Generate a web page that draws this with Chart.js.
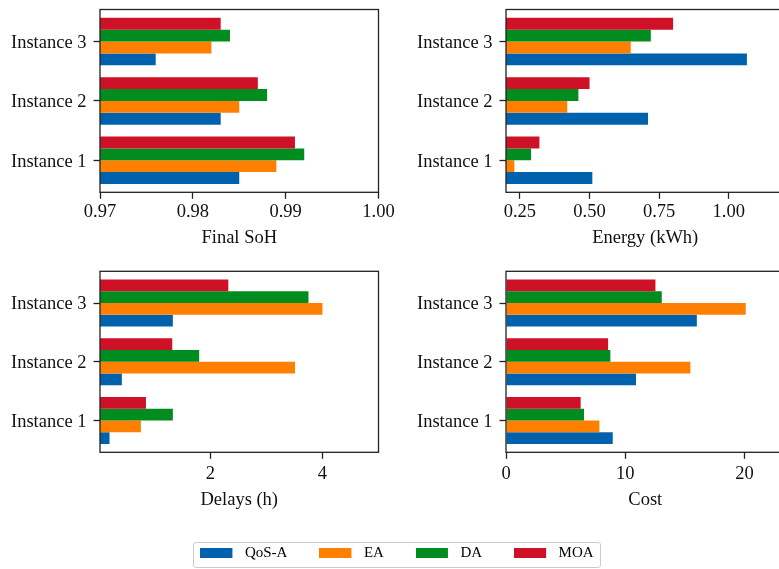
<!DOCTYPE html>
<html>
<head>
<meta charset="utf-8">
<title>Instance comparison: SoH, energy, delays and cost</title>
<script src="https://cdn.jsdelivr.net/npm/chart.js@4.4.1/dist/chart.umd.min.js"></script>
<style>
  html, body { margin: 0; padding: 0; background: #ffffff; width: 779px; height: 569px; overflow: hidden; }
  .panel { position: absolute; left: 0; top: 0; }
  #legendCanvas { position: absolute; left: 147px; top: 490px; }
  #legendFrame {
    position: absolute; left: 192.5px; top: 541.5px; width: 408.5px; height: 26.5px;
    box-sizing: border-box; border: 1.2px solid #cccccc; border-radius: 3px;
  }
</style>
</head>
<body>
<canvas id="sohCanvas" class="panel" width="800" height="569"></canvas>
<canvas id="energyCanvas" class="panel" width="800" height="569"></canvas>
<canvas id="delayCanvas" class="panel" width="800" height="569"></canvas>
<canvas id="costCanvas" class="panel" width="800" height="569"></canvas>
<div id="legendFrame"></div>
<canvas id="legendCanvas" width="500" height="220"></canvas>
<script>
// ---- data ---------------------------------------------------------------
const CATEGORIES = ['Instance 1', 'Instance 2', 'Instance 3'];
const CATEGORY_POS = [0, 1, 2];
const SERIES = ['QoS-A', 'EA', 'DA', 'MOA'];

// Final state of health
const SOH_QOSA = [0.985, 0.983, 0.976];
const SOH_EA   = [0.989, 0.985, 0.982];
const SOH_DA   = [0.992, 0.988, 0.984];
const SOH_MOA  = [0.991, 0.987, 0.983];
const SOH_TICKS = [0.97, 0.98, 0.99, 1.00];
const SOH_TICK_LABELS = ['0.97', '0.98', '0.99', '1.00'];

// Energy (kWh)
const ENERGY_QOSA = [0.51, 0.71, 1.065];
const ENERGY_EA   = [0.23, 0.42, 0.648];
const ENERGY_DA   = [0.29, 0.46, 0.72];
const ENERGY_MOA  = [0.32, 0.50, 0.80];
const ENERGY_TICKS = [0.25, 0.50, 0.75, 1.00];
const ENERGY_TICK_LABELS = ['0.25', '0.50', '0.75', '1.00'];

// Delays (h)
const DELAY_QOSA = [0.20, 0.42, 1.33];
const DELAY_EA   = [0.76, 3.51, 4.00];
const DELAY_DA   = [1.33, 1.80, 3.75];
const DELAY_MOA  = [0.85, 1.32, 2.32];
const DELAY_TICKS = [2, 4];
const DELAY_TICK_LABELS = ['2', '4'];

// Cost
const COST_QOSA = [8.95, 10.9, 16.0];
const COST_EA   = [7.83, 15.46, 20.1];
const COST_DA   = [6.54, 8.75, 13.06];
const COST_MOA  = [6.26, 8.56, 12.53];
const COST_TICKS = [0, 10, 20];
const COST_TICK_LABELS = ['0', '10', '20'];

// ---- styling ------------------------------------------------------------
const SERIES_COLORS = ['#0062ac', '#ff8000', '#008c1e', '#ce1126'];
const INK = '#111111';
const SPINE = '#222222';
const FONT_SIZE = 18.5;
const CANVAS_W = 800, CANVAS_H = 569;
const Y_AXIS_W = 100;

Chart.defaults.font.family = "'Liberation Serif', 'Times New Roman', serif";
Chart.defaults.color = INK;

// closed box around each plotting area
const framePlugin = {
  id: 'frame',
  afterDatasetsDraw(chart) {
    const { ctx, chartArea: a } = chart;
    ctx.save();
    ctx.strokeStyle = SPINE;
    ctx.lineWidth = 1.3;
    ctx.strokeRect(a.left, a.top, a.right - a.left, a.bottom - a.top);
    ctx.restore();
  }
};

function buildDatasets(seriesValues) {
  return SERIES.map((name, s) => ({
    label: name,
    data: seriesValues[s].map((v, i) => ({ x: v, y: CATEGORY_POS[i] })),
    backgroundColor: SERIES_COLORS[s],
    borderWidth: 0,
    // later series are stacked above earlier ones inside each group
    order: SERIES.length - 1 - s,
    categoryPercentage: 0.8,
    barPercentage: 1.0
  }));
}

function makePanel(canvasId, seriesValues, xAxis, area) {
  return new Chart(document.getElementById(canvasId), {
    type: 'bar',
    data: { datasets: buildDatasets(seriesValues) },
    options: {
      indexAxis: 'y',
      responsive: false,
      animation: false,
      events: [],
      layout: {
        autoPadding: false,
        padding: {
          left: area.left - Y_AXIS_W,
          top: area.top,
          right: CANVAS_W - area.right,
          bottom: CANVAS_H - area.bottom - area.axisH
        }
      },
      plugins: { legend: { display: false }, tooltip: { enabled: false } },
      scales: {
        x: {
          type: 'linear',
          position: 'bottom',
          min: xAxis.min,
          max: xAxis.max,
          afterBuildTicks: (s) => { s.ticks = xAxis.ticks.map(v => ({ value: v })); },
          afterFit: (s) => { s.height = area.axisH; s.paddingLeft = 0; s.paddingRight = 0; },
          ticks: {
            autoSkip: false, maxRotation: 0, minRotation: 0, padding: area.tickPad,
            color: INK, font: { size: FONT_SIZE },
            callback: (v, i) => xAxis.labels[i]
          },
          grid: {
            display: true, drawOnChartArea: false, drawTicks: true,
            tickLength: 6.5, tickWidth: 1.3, tickColor: SPINE
          },
          border: { display: false },
          title: { display: true, text: xAxis.title, color: INK, font: { size: FONT_SIZE }, padding: 0 }
        },
        y: {
          type: 'linear',
          position: 'left',
          min: -0.54,
          max: 2.54,
          offset: false,
          afterBuildTicks: (s) => { s.ticks = CATEGORY_POS.map(v => ({ value: v })); },
          afterFit: (s) => { s.width = Y_AXIS_W; s.paddingTop = 0; s.paddingBottom = 0; },
          ticks: {
            autoSkip: false, padding: 7, labelOffset: 1.5,
            color: INK, font: { size: FONT_SIZE },
            callback: (v, i) => CATEGORIES[i]
          },
          grid: {
            display: true, offset: false, drawOnChartArea: false, drawTicks: true,
            tickLength: 6.5, tickWidth: 1.3, tickColor: SPINE
          },
          border: { display: false }
        }
      }
    },
    plugins: [framePlugin]
  });
}

const TOP_ROW = { top: 9.5, bottom: 192.3, axisH: 56.5, tickPad: 2.5 };
const BOTTOM_ROW = { top: 271.3, bottom: 452.3, axisH: 59, tickPad: 4.5 };
const LEFT_COL = { left: 100, right: 378.5 };
const RIGHT_COL = { left: 506, right: 784.5 };

makePanel('sohCanvas',
  [SOH_QOSA, SOH_EA, SOH_DA, SOH_MOA],
  { min: 0.97, max: 1.00, ticks: SOH_TICKS, labels: SOH_TICK_LABELS, title: 'Final SoH' },
  Object.assign({}, LEFT_COL, TOP_ROW));

makePanel('energyCanvas',
  [ENERGY_QOSA, ENERGY_EA, ENERGY_DA, ENERGY_MOA],
  { min: 0.2, max: 1.2, ticks: ENERGY_TICKS, labels: ENERGY_TICK_LABELS, title: 'Energy (kWh)' },
  Object.assign({}, RIGHT_COL, TOP_ROW));

makePanel('delayCanvas',
  [DELAY_QOSA, DELAY_EA, DELAY_DA, DELAY_MOA],
  { min: 0.03, max: 5.0, ticks: DELAY_TICKS, labels: DELAY_TICK_LABELS, title: 'Delays (h)' },
  Object.assign({}, LEFT_COL, BOTTOM_ROW));

makePanel('costCanvas',
  [COST_QOSA, COST_EA, COST_DA, COST_MOA],
  { min: 0, max: 23.35, ticks: COST_TICKS, labels: COST_TICK_LABELS, title: 'Cost' },
  Object.assign({}, RIGHT_COL, BOTTOM_ROW));

// ---- shared legend ------------------------------------------------------
function swatch(color) {
  const c = document.createElement('canvas');
  c.width = 37;
  c.height = 10;
  const g = c.getContext('2d');
  g.fillStyle = color;
  g.fillRect(0, 0, 32, 10);
  return c;
}

new Chart(document.getElementById('legendCanvas'), {
  type: 'bar',
  data: {
    labels: [],
    datasets: SERIES.map((name, s) => ({ label: name, data: [], backgroundColor: SERIES_COLORS[s] }))
  },
  options: {
    responsive: false,
    animation: false,
    events: [],
    layout: { padding: { top: 23.3 } },
    scales: { x: { display: false }, y: { display: false } },
    plugins: {
      tooltip: { enabled: false },
      legend: {
        display: true,
        position: 'top',
        align: 'center',
        labels: {
          usePointStyle: true,
          pointStyleWidth: 37,
          boxHeight: 10,
          padding: 32,
          color: INK,
          font: { size: 15 },
          generateLabels: () => SERIES.map((name, s) => ({
            text: name,
            fillStyle: SERIES_COLORS[s],
            strokeStyle: SERIES_COLORS[s],
            lineWidth: 0,
            pointStyle: swatch(SERIES_COLORS[s]),
            hidden: false,
            datasetIndex: s
          }))
        }
      }
    }
  }
});
</script>
</body>
</html>
